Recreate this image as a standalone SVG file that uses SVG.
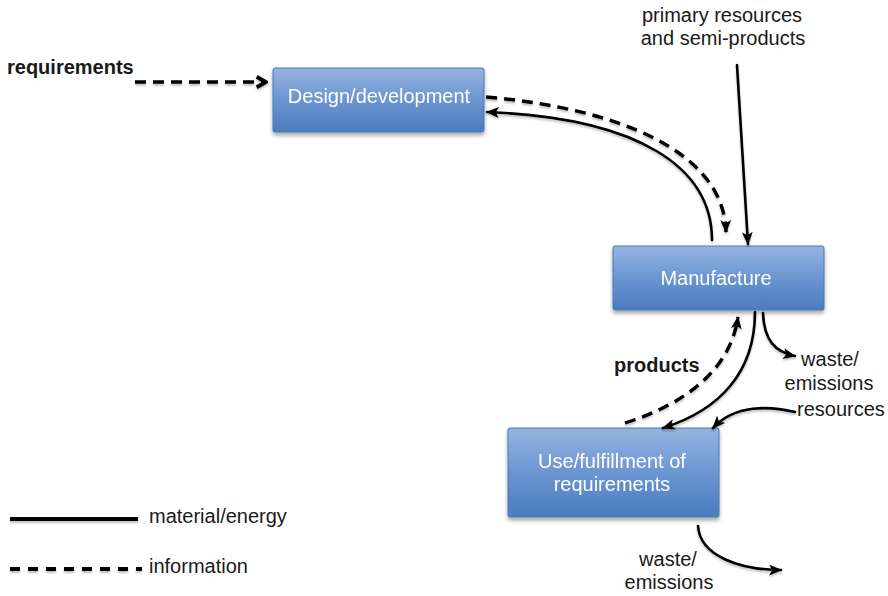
<svg xmlns="http://www.w3.org/2000/svg" width="888" height="596" viewBox="0 0 888 596">
  <defs>
    <linearGradient id="boxFill" x1="0" y1="0" x2="0" y2="1">
      <stop offset="0" stop-color="#96B4E0"/>
      <stop offset="0.5" stop-color="#6B95D1"/>
      <stop offset="1" stop-color="#4A7CC0"/>
    </linearGradient>
    <filter id="boxShadow" x="-10%" y="-10%" width="120%" height="130%">
      <feGaussianBlur in="SourceAlpha" stdDeviation="2"/>
      <feOffset dx="0" dy="3" result="b"/>
      <feComponentTransfer><feFuncA type="linear" slope="0.35"/></feComponentTransfer>
      <feMerge><feMergeNode/><feMergeNode in="SourceGraphic"/></feMerge>
    </filter>
    <filter id="lineShadow" x="-10%" y="-10%" width="120%" height="130%">
      <feGaussianBlur in="SourceAlpha" stdDeviation="1.2"/>
      <feOffset dx="0" dy="2"/>
      <feComponentTransfer><feFuncA type="linear" slope="0.25"/></feComponentTransfer>
      <feMerge><feMergeNode/><feMergeNode in="SourceGraphic"/></feMerge>
    </filter>
    <marker id="head" viewBox="0 0 12 10" refX="11" refY="5" markerWidth="13" markerHeight="11" markerUnits="userSpaceOnUse" orient="auto">
      <path d="M0,0 L12,5 L0,10 L3,5 z" fill="#000"/>
    </marker>
    <marker id="chevron" viewBox="0 0 12 12" refX="10" refY="6" markerWidth="14" markerHeight="14" markerUnits="userSpaceOnUse" orient="auto">
      <path d="M2,1.5 L10,6 L2,10.5" fill="none" stroke="#000" stroke-width="3.2" stroke-linejoin="miter"/>
    </marker>
  </defs>
  <style>
    .box { fill: url(#boxFill); stroke: #4A78B5; stroke-width: 1; }
    .boxText { font-family: "Liberation Sans", Arial, sans-serif; font-size: 20px; fill: #ffffff; text-anchor: middle; }
    .label { font-family: "Liberation Sans", Arial, sans-serif; font-size: 20px; fill: #1a1a1a; }
    .bold { font-weight: bold; }
    .mid { text-anchor: middle; }
    .solid { fill: none; stroke: #000; stroke-width: 2.6; stroke-linecap: round; }
    .dashed { fill: none; stroke: #000; stroke-width: 3.4; stroke-dasharray: 11 7; }
  </style>

  <rect width="888" height="596" fill="#ffffff"/>

  <!-- process nodes -->
  <g id="design" filter="url(#boxShadow)">
    <rect class="box" x="273" y="68" width="211" height="64" rx="2"/>
    <text class="boxText" x="379" y="103">Design/development</text>
  </g>
  <g id="manufacture" filter="url(#boxShadow)">
    <rect class="box" x="613" y="246" width="211" height="64" rx="2"/>
    <text class="boxText" x="716" y="285">Manufacture</text>
  </g>
  <g id="use" filter="url(#boxShadow)">
    <rect class="box" x="508" y="428" width="211" height="89" rx="2"/>
    <text class="boxText" x="612" y="468">Use/fulfillment of</text>
    <text class="boxText" x="612" y="491">requirements</text>
  </g>

  <!-- flows -->
  <g id="connectors" filter="url(#lineShadow)">
    <path class="dashed" d="M135,82 L266,82" stroke-width="4" stroke-dasharray="13 8" marker-end="url(#chevron)"/>
    <path class="dashed" d="M486,97 C615,108 724,150 726,232" marker-end="url(#head)"/>
    <path class="solid" d="M712,240 C712,168 640,118 487,112" marker-end="url(#head)"/>
    <path class="solid" d="M737,65 L748,244" marker-end="url(#head)"/>
    <path class="dashed" d="M625,423 C682,405 730,372 738,317" stroke-width="3" stroke-dasharray="2 7 11 7 11 7 11 7 11 7 11 7 11 7" marker-end="url(#head)"/>
    <path class="solid" d="M755,312 C755,372 720,410 663,428" marker-end="url(#head)"/>
    <path class="solid" d="M763,313 C764,340 775,352 795,356" marker-end="url(#head)"/>
    <path class="solid" d="M795,412 C770,406 735,404 713,428" marker-end="url(#head)"/>
    <path class="solid" d="M698,526 C700,556 740,570 781,570" marker-end="url(#head)"/>
  </g>

  <!-- labels -->
  <g id="labels">
    <text class="label mid" x="722" y="22">primary resources</text>
    <text class="label mid" x="723" y="45">and semi-products</text>
    <text class="label bold" x="7" y="74">requirements</text>
    <text class="label bold" x="614" y="372">products</text>
    <text class="label mid" x="830" y="366">waste/</text>
    <text class="label mid" x="829" y="390">emissions</text>
    <text class="label" x="797" y="416">resources</text>
    <text class="label mid" x="668" y="566">waste/</text>
    <text class="label mid" x="669" y="589">emissions</text>
  </g>

  <!-- legend -->
  <g id="legend" filter="url(#lineShadow)">
    <line x1="10" y1="519" x2="138" y2="519" stroke="#000" stroke-width="4"/>
    <line x1="10" y1="569" x2="142" y2="569" stroke="#000" stroke-width="4" stroke-dasharray="10 8"/>
  </g>
  <g id="legendText">
    <text class="label" x="149" y="523">material/energy</text>
    <text class="label" x="149" y="573">information</text>
  </g>
</svg>
